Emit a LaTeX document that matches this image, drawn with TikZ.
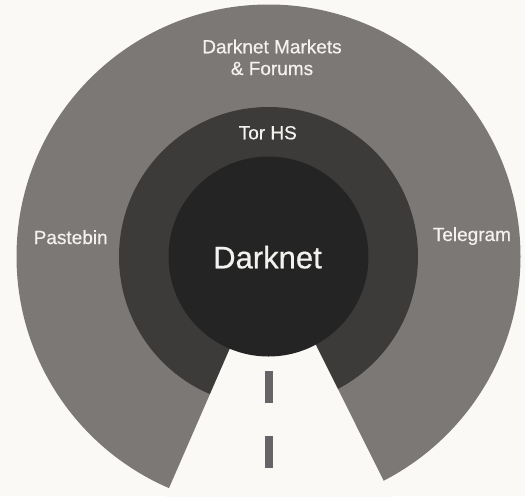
\documentclass[tikz,border=0pt]{standalone}
\usepackage{fontspec}
\newfontfamily\ringfont{Liberation Sans}[FakeBold=0.6]
\definecolor{paper}{HTML}{FAF9F6}
\definecolor{outergrey}{HTML}{7B7876}
\definecolor{middlegrey}{HTML}{3D3B3A}
\definecolor{innergrey}{HTML}{242424}
\definecolor{dashgrey}{HTML}{656467}
\definecolor{textwhite}{HTML}{F3F2EF}

\begin{document}
\begin{tikzpicture}[x=1pt,y=-1pt,
    ring/.style ={circle, inner sep=0pt, draw=none},
    ringtext/.style ={anchor=base, inner sep=0pt, text=textwhite,
      font=\ringfont\fontsize{19}{21.7}\selectfont, align=center}]
   \fill[paper] (0,0) rectangle (525,496);
   \useasboundingbox (0,0) rectangle (525,496);
   \clip (0,0) rectangle (525,496);
   % the three layers
   \node[ring, fill=outergrey, minimum size=504pt] (outer) at (268.5,256.5) {};
   \node[ring, fill=middlegrey, minimum size=299pt] (middle) at (268.5,256.5) {};
   % the road
   \fill[paper] (238,330) -- (155.2,520) -- (403.1,520) -- (308.4,330) -- cycle;
   \fill[dashgrey] (265,371) rectangle (272.7,403.3);
   \fill[dashgrey] (265,435.7) rectangle (272.7,468.3);
   \node[ring, fill=innergrey, minimum size=200pt] (inner) at (268.5,256.5) {};
   % labels
   \node[ringtext] (markets) at (272,75) {Darknet Markets\\\& Forums};
   \node[ringtext] (tor) at (267.8,139.3) {Tor HS};
   \node[ringtext, font=\ringfont\fontsize{31}{36}\selectfont] (darknet) at (267.5,268.3) {Darknet};
   \node[ringtext] (pastebin) at (70.7,244) {Pastebin};
   \node[ringtext] (telegram) at (471.9,241) {Telegram};
 \end{tikzpicture}
\end{document}
